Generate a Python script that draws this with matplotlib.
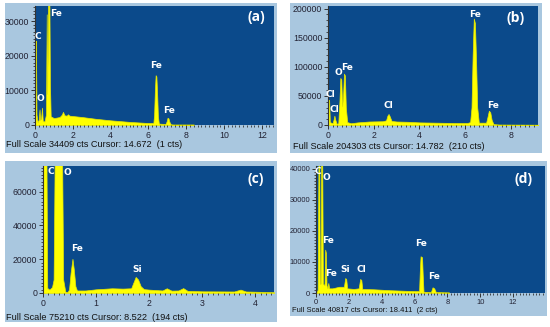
import matplotlib
matplotlib.use("Agg")
import matplotlib.pyplot as plt
from matplotlib.patches import Rectangle
from matplotlib.ticker import MultipleLocator

W, H = 550, 327
LIGHT = "#a9c7df"
DARK = "#0b4a8b"
YELLOW = "#ffff00"

# ---- spectrum (a) ----
a_energy = [0.0, 0.02, 0.05, 0.08, 0.14, 0.20, 0.24, 0.27, 0.32, 0.37, 0.41, 0.50, 0.58,
            0.62, 0.64, 0.67, 0.69, 0.76, 0.79, 0.83, 1.0, 1.3, 1.42, 1.48, 1.56, 1.68,
            1.74, 1.82, 2.5, 3.2, 4.0, 5.0, 5.9, 6.26, 6.30, 6.34, 6.38, 6.42, 6.46, 6.50,
            6.55, 6.9, 6.96, 7.01, 7.06, 7.11, 7.18, 7.3, 8.4]
a_counts = [0, 24000, 24400, 3000, 800, 1500, 4500, 1500, 1800, 5000, 1200, 1000, 3000,
            32000, 9000, 20000, 36000, 36000, 12000, 2500, 2000, 2300, 3000, 3800, 2800, 2700,
            3100, 2700, 2300, 1800, 1350, 900, 600, 600, 3000, 10000, 14400, 14000, 9000, 2500,
            400, 300, 1000, 2100, 1900, 900, 200, 150, 150]

# ---- spectrum (b) ----
b_energy = [0.0, 0.01, 0.05, 0.08, 0.2, 0.25, 0.28, 0.31, 0.38, 0.45, 0.50, 0.54, 0.58,
            0.62, 0.66, 0.70, 0.74, 0.78, 0.84, 1.0, 1.3, 1.8, 2.4, 2.54, 2.60, 2.65,
            2.70, 2.78, 3.0, 3.5, 4.0, 5.0, 5.6, 6.1, 6.22, 6.28, 6.33, 6.38, 6.43, 6.48,
            6.53, 6.60, 6.92, 6.98, 7.04, 7.10, 7.16, 7.24, 7.5, 9.2]
b_counts = [0, 43500, 43000, 5000, 3000, 10000, 16000, 10000, 2000, 3000, 40000, 80800, 78000,
            32000, 50000, 88200, 85000, 30000, 5000, 3000, 4500, 6000, 6500, 8000, 16000, 18900,
            15000, 7000, 6000, 5500, 4500, 3800, 3500, 3500, 5000, 30000, 120000, 182800, 175000,
            110000, 30000, 4000, 4000, 14000, 24600, 22000, 9000, 1500, 800, 500]

# ---- spectrum (c) ----
c_energy = [0.0, 0.005, 0.065, 0.08, 0.12, 0.17, 0.20, 0.22, 0.36, 0.38, 0.42, 0.46, 0.49,
            0.52, 0.555, 0.58, 0.61, 0.64, 0.8, 1.0, 1.3, 1.5, 1.66, 1.70, 1.745, 1.79, 1.84,
            1.9, 2.0, 2.25, 2.33, 2.42, 2.55, 2.64, 2.72, 3.0, 3.6, 3.72, 3.82, 4.35]
c_counts = [0, 80000, 80000, 3000, 2000, 3500, 8000, 80000, 80000, 8000, 800, 500, 2000,
            12000, 20250, 14000, 4000, 1500, 1500, 2200, 2800, 2600, 2800, 6000, 9500, 8000, 4000,
            2300, 2000, 1500, 2800, 1400, 1500, 2900, 1300, 1000, 900, 2000, 900, 500]

# ---- spectrum (d) ----
d_energy = [0.0, 0.1, 0.15, 0.2, 0.23, 0.28, 0.31, 0.38, 0.42, 0.52, 0.56, 0.60, 0.64,
            0.70, 0.75, 0.80, 1.0, 1.4, 1.7, 1.78, 1.84, 1.9, 2.3, 2.6, 2.69, 2.76, 2.82,
            3.5, 4.5, 5.5, 6.28, 6.33, 6.37, 6.46, 6.50, 6.55, 7.0, 7.1, 7.2, 7.3, 8.1]
d_counts = [0, 1000, 42000, 42000, 3000, 3000, 42000, 42000, 3000, 2500, 13950, 13000, 2500,
            1500, 3200, 1500, 1500, 2000, 2000, 4800, 4500, 1500, 1300, 1500, 4500, 4200, 1300,
            1200, 900, 700, 600, 8000, 11800, 11500, 6000, 400, 300, 1830, 1500, 300, 200]

# peak labels
a_labels = ["C", "Fe", "O", "Fe", "Fe"]
a_lab_x = [0.16, 1.13, 0.3, 6.4, 7.1]
a_lab_y = [25700, 32250, 7600, 17100, 4200]
b_labels = ["Cl", "Cl", "O", "Fe", "Cl", "Fe", "Fe"]
b_lab_x = [0.1, 0.28, 0.47, 0.83, 2.64, 6.43, 7.21]
b_lab_y = [52100, 26300, 89400, 98000, 33200, 189700, 34000]
c_labels = ["C", "O", "Fe", "Si"]
c_lab_x = [0.14, 0.45, 0.64, 1.77]
c_lab_y = [72100, 71500, 26600, 13900]
d_labels = ["C", "O", "Fe", "Fe", "Si", "Cl", "Fe", "Fe"]
d_lab_x = [0.1, 0.62, 0.74, 0.92, 1.75, 2.74, 6.42, 7.2]
d_lab_y = [38900, 37000, 16950, 6400, 7700, 7700, 15900, 5360]

footers = ["Full Scale 34409 cts Cursor: 14.672  (1 cts)",
           "Full Scale 204303 cts Cursor: 14.782  (210 cts)",
           "Full Scale 75210 cts Cursor: 8.522  (194 cts)",
           "Full Scale 40817 cts Cursor: 18.411  (2 cts)"]
full_scale = [34409, 204303, 75210, 40817]


def fig_box(x0, y0, x1, y1):
    return [x0 / W, 1 - y1 / H, (x1 - x0) / W, (y1 - y0) / H]


fig = plt.figure(figsize=(W / 100, H / 100), dpi=100)
fig.patch.set_facecolor("white")

frames = [(5, 3, 277, 153), (290, 3, 542, 153), (5, 161, 277, 322), (290, 161, 547, 316)]
boxes = [(35, 6, 274, 125), (328, 6, 538, 125), (43, 166, 274, 293), (316, 166, 545, 293)]
xmax = [12.64, 9.19, 4.35, 13.95]
xmajor = [2, 2, 1, 2]
xminor = [0.2, 0.2, 0.1, 0.2]
ymajor = [10000, 50000, 20000, 10000]
yminor = [1000, 10000, 2000, 1000]
footer_pos = [(6, 145), (293, 146), (6, 317), (292, 310)]
footer_size = [6.6, 6.6, 6.6, 5.4]
tick_size = [6.3, 6.3, 6.3, 5.4]
tags = ["(a)", "(b)", "(c)", "(d)"]
tag_x = [11.7, 8.2, 4.0, 12.65]
tag_y = [31300, 184000, 67500, 36700]

spectra = [(a_energy, a_counts), (b_energy, b_counts), (c_energy, c_counts), (d_energy, d_counts)]
labels = [(a_labels, a_lab_x, a_lab_y), (b_labels, b_lab_x, b_lab_y),
          (c_labels, c_lab_x, c_lab_y), (d_labels, d_lab_x, d_lab_y)]

for i in range(4):
    fx0, fy0, fx1, fy1 = frames[i]
    fig.add_artist(Rectangle((fx0 / W, 1 - fy1 / H), (fx1 - fx0) / W, (fy1 - fy0) / H,
                             transform=fig.transFigure, facecolor=LIGHT, edgecolor="none", zorder=0))
    ax = fig.add_axes(fig_box(*boxes[i]))
    ax.set_facecolor(DARK)
    en, ct = spectra[i]
    ax.fill_between(en, ct, 0, color=YELLOW, lw=0.5, edgecolor="#e6e600")
    ax.set_xlim(0, xmax[i])
    ax.set_ylim(0, full_scale[i])
    for s in ["top", "right", "bottom"]:
        ax.spines[s].set_visible(False)
    ax.spines["left"].set_color("#333333")
    ax.spines["left"].set_linewidth(0.8)
    ax.xaxis.set_major_locator(MultipleLocator(xmajor[i]))
    ax.xaxis.set_minor_locator(MultipleLocator(xminor[i]))
    ax.yaxis.set_major_locator(MultipleLocator(ymajor[i]))
    ax.yaxis.set_minor_locator(MultipleLocator(yminor[i]))
    ax.tick_params(which="major", length=3, width=0.7, color="#333333", labelsize=tick_size[i],
                   labelcolor="#222233", pad=1.2)
    ax.tick_params(which="minor", length=1.6, width=0.6, color="#333333")
    for lab in ax.get_xticklabels() + ax.get_yticklabels():
        lab.set_fontfamily("Liberation Sans")
    names, lx, ly = labels[i]
    for n, x, y in zip(names, lx, ly):
        ax.text(x, y, n, color="white", fontsize=6.5, fontweight="bold",
                ha="center", va="center", family="DejaVu Sans")
    ax.text(tag_x[i], tag_y[i], tags[i], color="white", fontsize=10, fontweight="bold",
            ha="center", va="center", family="Open Sans")
    px, py = footer_pos[i]
    fig.text(px / W, 1 - py / H, footers[i], fontsize=footer_size[i], color="#111111",
             ha="left", va="center", family="Liberation Sans")

fig.savefig("out.png", dpi=100)
